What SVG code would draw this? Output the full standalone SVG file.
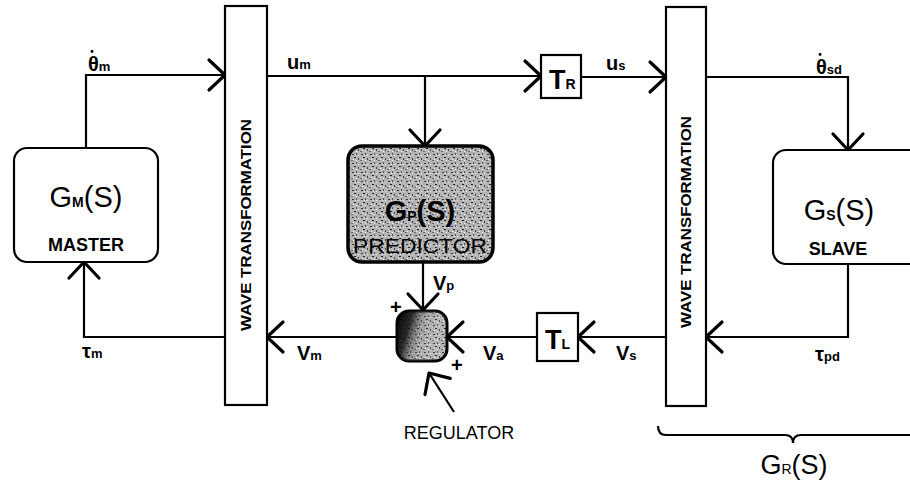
<svg xmlns="http://www.w3.org/2000/svg" width="910" height="482" viewBox="0 0 910 482">
<style>
.ln{stroke:#000;stroke-width:2.2;fill:none}
.box{stroke:#000;stroke-width:2.2;fill:#fff}
.t{font-family:"Liberation Sans",Arial,sans-serif;fill:#000}
.big{font-size:29px}
.lbl{font-size:18px;font-weight:bold}
.sig{font-size:20px;font-weight:bold}
.sub{font-size:13px;font-weight:bold}
.dot{font-size:10px;font-weight:bold}
.wt{font-size:15px;font-weight:bold}
</style>
<defs>
<marker id="ah" markerUnits="userSpaceOnUse" markerWidth="40" markerHeight="40" viewBox="-20 -20 40 40" refX="0" refY="0" orient="auto">
<path d="M-16,-15 L0,0 L-16,15" fill="none" stroke="#000" stroke-width="3.2" stroke-linecap="round" stroke-linejoin="round"/>
</marker>
<pattern id="speck" width="9" height="9" patternUnits="userSpaceOnUse">
<rect width="9" height="9" fill="#b4b4b4"/>
<rect x="1" y="1" width="2" height="1" fill="#333"/>
<rect x="5" y="0" width="1" height="2" fill="#555"/>
<rect x="3" y="4" width="2" height="1" fill="#222"/>
<rect x="7" y="5" width="1" height="2" fill="#444"/>
<rect x="0" y="7" width="2" height="1" fill="#666"/>
<rect x="5" y="7" width="1" height="1" fill="#fff"/>
<rect x="7" y="2" width="1" height="1" fill="#eee"/>
<rect x="2" y="6" width="1" height="1" fill="#fff"/>
<rect x="4" y="2" width="1" height="1" fill="#eee"/>
</pattern>
<linearGradient id="regg" x1="0" y1="0" x2="1" y2="0.3">
<stop offset="0" stop-color="#000"/>
<stop offset="0.3" stop-color="#111" stop-opacity="0.85"/>
<stop offset="0.55" stop-color="#666" stop-opacity="0.25"/>
<stop offset="1" stop-color="#fff" stop-opacity="0"/>
</linearGradient>
</defs>

<g id="connectors">
<polyline class="ln" points="86,148 86,75 225,75" marker-end="url(#ah)"/>
<line class="ln" x1="267" y1="76" x2="541" y2="76" marker-end="url(#ah)"/>
<line class="ln" x1="425" y1="76" x2="425" y2="146" marker-end="url(#ah)"/>
<line class="ln" x1="581" y1="77" x2="666" y2="77" marker-end="url(#ah)"/>
<polyline class="ln" points="706,77 848,77 848,150" marker-end="url(#ah)"/>
<polyline class="ln" points="848,264 848,337 706,337" marker-end="url(#ah)"/>
<line class="ln" x1="666" y1="337" x2="578" y2="337" marker-end="url(#ah)"/>
<line class="ln" x1="537" y1="337" x2="447" y2="337" marker-end="url(#ah)"/>
<line class="ln" x1="423" y1="262" x2="423" y2="310" marker-end="url(#ah)"/>
<line class="ln" x1="397" y1="337" x2="267" y2="337" marker-end="url(#ah)"/>
<polyline class="ln" points="225,337 84,337 84,262" marker-end="url(#ah)"/>
<line class="ln" x1="454" y1="412" x2="429" y2="373" marker-end="url(#ah)"/>
<path class="ln" d="M658,426 Q658,435 666,435 L785,435 Q793,435 793,443 Q793,435 801,435 L910,435"/>
</g>

<g id="master">
<rect class="box" x="14" y="148" width="144" height="114" rx="13"/>
<text class="t big" x="86" y="207" text-anchor="middle">G<tspan font-size="14" font-weight="bold">M</tspan>(S)</text>
<text class="t lbl" x="86" y="251" text-anchor="middle">MASTER</text>
</g>

<g id="wave-left">
<rect class="box" x="225" y="6" width="42" height="399"/>
<text class="t wt" x="0" y="0" transform="translate(251,225) rotate(-90)" text-anchor="middle" textLength="212" lengthAdjust="spacingAndGlyphs">WAVE TRANSFORMATION</text>
</g>

<g id="predictor">
<rect x="348" y="146" width="145" height="116" rx="14" fill="url(#speck)" stroke="#000" stroke-width="3.5"/>
<text class="t big" x="420" y="221" text-anchor="middle" font-weight="bold">G<tspan font-size="14">P</tspan>(S)</text>
<text class="t" x="420" y="253" text-anchor="middle" font-size="20" textLength="134" lengthAdjust="spacingAndGlyphs">PREDICTOR</text>
</g>

<g id="regulator">
<rect x="397" y="311" width="50" height="50" rx="12" fill="url(#speck)" stroke="#000" stroke-width="3"/>
<rect x="397" y="311" width="50" height="50" rx="12" fill="url(#regg)"/>
</g>

<g id="tr">
<rect class="box" x="541" y="55" width="40" height="43"/>
<text class="t" x="549" y="89" font-size="27" font-weight="bold">T<tspan font-size="14">R</tspan></text>
</g>

<g id="tl">
<rect class="box" x="537" y="313" width="41" height="48"/>
<text class="t" x="545" y="349" font-size="27" font-weight="bold">T<tspan font-size="14">L</tspan></text>
</g>

<g id="wave-right">
<rect class="box" x="666" y="7" width="40" height="399"/>
<text class="t wt" x="0" y="0" transform="translate(691,222) rotate(-90)" text-anchor="middle" textLength="212" lengthAdjust="spacingAndGlyphs">WAVE TRANSFORMATION</text>
</g>

<g id="slave">
<rect class="box" x="773" y="150" width="160" height="114" rx="13"/>
<text class="t big" x="839" y="220" text-anchor="middle">G<tspan font-size="14" font-weight="bold">S</tspan>(S)</text>
<text class="t lbl" x="838" y="255" text-anchor="middle">SLAVE</text>
</g>

<g id="labels">
<text class="t sig" x="88" y="71">θ<tspan class="dot" dx="-8.5" dy="-16">•</tspan><tspan class="sub" dx="5" dy="16">m</tspan></text>
<text class="t sig" x="287" y="69">u<tspan class="sub">m</tspan></text>
<text class="t sig" x="606" y="70">u<tspan class="sub">s</tspan></text>
<text class="t sig" x="816" y="74">θ<tspan class="dot" dx="-8.5" dy="-16">•</tspan><tspan class="sub" dx="5" dy="16">sd</tspan></text>
<text class="t sig" x="82" y="358">τ<tspan class="sub">m</tspan></text>
<text class="t sig" x="297" y="360">V<tspan class="sub">m</tspan></text>
<text class="t sig" x="433" y="290">V<tspan class="sub">p</tspan></text>
<text class="t sig" x="483" y="360">V<tspan class="sub">a</tspan></text>
<text class="t sig" x="616" y="360">V<tspan class="sub">s</tspan></text>
<text class="t sig" x="815" y="361">τ<tspan class="sub">pd</tspan></text>
<text class="t sig" x="390" y="314">+</text>
<text class="t sig" x="451" y="372">+</text>
<text class="t" x="459" y="439" font-size="18" text-anchor="middle">REGULATOR</text>
<text class="t" x="794" y="474" font-size="27" text-anchor="middle">G<tspan font-size="14">R</tspan>(S)</text>
</g>
</svg>
